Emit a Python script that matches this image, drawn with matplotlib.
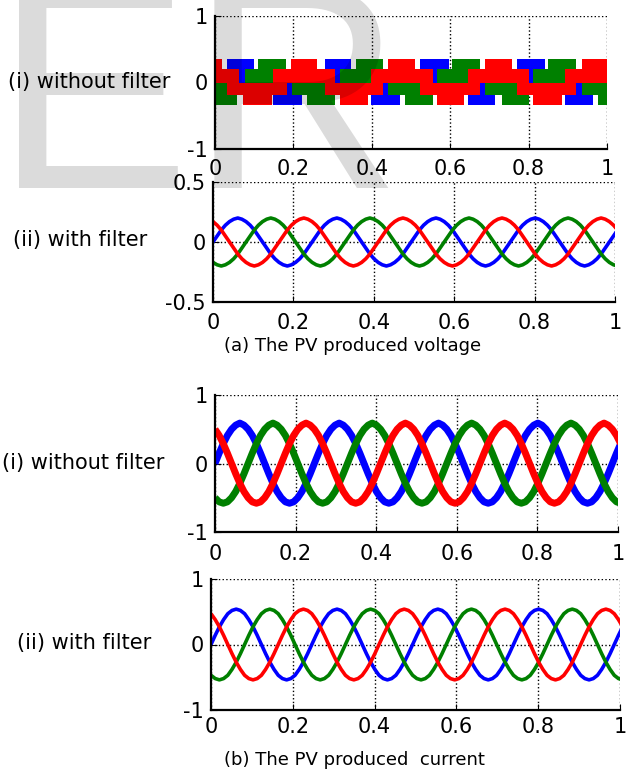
import numpy as np
import matplotlib
matplotlib.use("Agg")
import matplotlib.pyplot as plt

plt.rcParams["font.family"] = ["DejaVu Sans"]
plt.rcParams["axes.unicode_minus"] = False

# phase colours
blue, green, red = "#0000FF", "#008000", "#FF0000"

# (a)(i) stepped inverter voltage, visible coloured blocks per level band
# band limits (low, high) and blocks (t start, t end, colour)
bands = [(0.20, 0.35), (0.0, 0.20), (-0.19, 0.0), (-0.34, -0.19)]
row1 = [(0, 0.017, red), (0.030, 0.100, blue), (0.110, 0.181, green),
        (0.194, 0.260, red), (0.280, 0.348, blue), (0.360, 0.429, green),
        (0.442, 0.510, red), (0.523, 0.596, blue), (0.604, 0.676, green),
        (0.689, 0.757, red), (0.770, 0.842, blue), (0.850, 0.922, green),
        (0.935, 1.0, red)]
row2 = [(0, 0.060, red), (0.060, 0.077, blue), (0.077, 0.149, green),
        (0.149, 0.306, red), (0.306, 0.318, blue), (0.318, 0.399, green),
        (0.399, 0.557, red), (0.557, 0.566, blue), (0.566, 0.646, green),
        (0.646, 0.800, red), (0.800, 0.812, blue), (0.812, 0.893, green),
        (0.893, 1.0, red)]
row3 = [(0, 0.030, green), (0.030, 0.183, red), (0.183, 0.196, blue),
        (0.196, 0.281, green), (0.281, 0.429, red), (0.429, 0.442, blue),
        (0.442, 0.523, green), (0.523, 0.676, red), (0.676, 0.689, blue),
        (0.689, 0.770, green), (0.770, 0.922, red), (0.922, 0.935, blue),
        (0.935, 1.0, green)]
row4 = [(0, 0.055, green), (0.072, 0.145, red), (0.149, 0.221, blue),
        (0.234, 0.306, green), (0.320, 0.390, red), (0.399, 0.472, blue),
        (0.485, 0.557, green), (0.566, 0.634, red), (0.646, 0.714, blue),
        (0.731, 0.800, green), (0.812, 0.884, red), (0.893, 0.965, blue),
        (0.976, 1.0, green)]

# one cycle of the blue phase (24 samples)
period = 0.2465
cycle_v_filter = [0, 0.05, 0.10, 0.14, 0.17, 0.19, 0.20, 0.19, 0.17, 0.14, 0.10, 0.05,
                  0, -0.05, -0.10, -0.14, -0.17, -0.19, -0.20, -0.19, -0.17, -0.14, -0.10, -0.05]
cycle_i_raw = [0, 0.15, 0.29, 0.41, 0.50, 0.56, 0.59, 0.56, 0.50, 0.41, 0.29, 0.15,
               0, -0.15, -0.29, -0.41, -0.50, -0.56, -0.58, -0.56, -0.50, -0.41, -0.29, -0.15]
cycle_i_filter = [0, 0.14, 0.27, 0.38, 0.47, 0.52, 0.54, 0.52, 0.47, 0.38, 0.27, 0.14,
                  0, -0.14, -0.27, -0.38, -0.47, -0.52, -0.54, -0.52, -0.47, -0.38, -0.27, -0.14]
phase_lag = {blue: 0, green: 8, red: 16}   # samples behind blue

x_ticks = [0, 0.2, 0.4, 0.6, 0.8, 1]
x_labels = ["0", "0.2", "0.4", "0.6", "0.8", "1"]

fig = plt.figure(figsize=(6.26, 7.78), dpi=100)
W, H = 626, 778


def add_panel(left, top, right, bottom):
    return fig.add_axes([left / W, 1 - bottom / H, (right - left) / W, (bottom - top) / H])


def style(ax, ylim, yticks, ylabels, xpad):
    ax.set_xlim(0, 1)
    ax.set_ylim(*ylim)
    ax.set_xticks(x_ticks, x_labels)
    ax.set_yticks(yticks, ylabels)
    ax.grid(True, ls=":", color="k", lw=1.0)
    ax.set_axisbelow(True)
    for side in ["top", "right"]:
        ax.spines[side].set_visible(False)
    for side in ["left", "bottom"]:
        ax.spines[side].set_linewidth(1.6)
    ax.tick_params(axis="x", direction="in", length=4, labelsize=15, pad=xpad)
    ax.tick_params(axis="y", direction="in", length=4, labelsize=15, pad=5)


def three_phase(ax, cycle, lw):
    n = int(np.ceil(1 / (period / len(cycle)))) + 1
    t = np.arange(n) * period / len(cycle)
    for c in [blue, green, red]:
        y = np.tile(np.roll(cycle, phase_lag[c]), 6)[:n]
        ax.plot(t, y, color=c, lw=lw, solid_capstyle="butt")


# (a)(i)
ax1 = add_panel(215, 16, 607, 149)
for (lo, hi), row in zip(bands, [row1, row2, row3, row4]):
    ax1.broken_barh([(a, b - a) for a, b, c in row], (lo, hi - lo),
                    facecolors=[c for a, b, c in row], edgecolor="none")
style(ax1, (-1, 1), [-1, 0, 1], ["-1", "0", "1"], 7)

# (a)(ii)
ax2 = add_panel(213, 182, 615, 302)
three_phase(ax2, cycle_v_filter, 2.6)
style(ax2, (-0.5, 0.5), [-0.5, 0, 0.5], ["-0.5", "0", "0.5"], 8)

# (b)(i)
ax3 = add_panel(215, 395, 618, 532)
three_phase(ax3, cycle_i_raw, 5)
style(ax3, (-1, 1), [-1, 0, 1], ["-1", "0", "1"], 9)

# (b)(ii)
ax4 = add_panel(211, 579, 620, 710)
three_phase(ax4, cycle_i_filter, 2.6)
style(ax4, (-1, 1), [-1, 0, 1], ["-1", "0", "1"], 5)

# row labels and captions
fig.text(8 / W, 1 - 82 / H, "(i) without filter", fontsize=15, va="center")
fig.text(13 / W, 1 - 240 / H, "(ii) with filter", fontsize=15, va="center")
fig.text(2 / W, 1 - 463 / H, "(i) without filter", fontsize=15, va="center")
fig.text(17 / W, 1 - 643 / H, "(ii) with filter", fontsize=15, va="center")
fig.text(353 / W, 1 - 346 / H, "(a) The PV produced voltage", fontsize=13, ha="center", va="center")
fig.text(354 / W, 1 - 760 / H, "(b) The PV produced  current", fontsize=13, ha="center", va="center")

# watermark
fig.text(-5 / W, 1 - 188 / H, "ER", fontsize=211, family="Liberation Sans",
         color="k", alpha=0.14, va="baseline", zorder=10)

fig.savefig("out.png", dpi=100)
